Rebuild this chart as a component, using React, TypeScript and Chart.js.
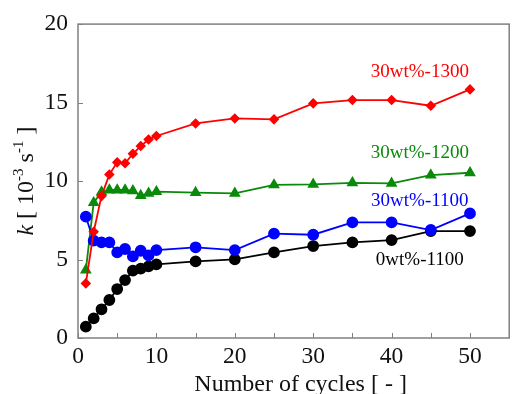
import { useEffect, useRef } from "react";
import { Chart, registerables } from "chart.js";

Chart.register(...registerables);

const cycles = [1, 2, 3, 4, 5, 6, 7, 8, 9, 10, 15, 20, 25, 30, 35, 40, 45, 50];
const k0wt1100 = [0.72, 1.25, 1.83, 2.42, 3.12, 3.69, 4.29, 4.42, 4.56, 4.69, 4.88, 5.01, 5.46, 5.86, 6.09, 6.24, 6.81, 6.81];
const k30wt1100 = [7.73, 6.2, 6.09, 6.09, 5.46, 5.67, 5.2, 5.56, 5.27, 5.6, 5.78, 5.6, 6.65, 6.58, 7.37, 7.37, 6.88, 7.94];
const k30wt1200 = [4.33, 8.62, 9.3, 9.43, 9.43, 9.43, 9.38, 9.07, 9.22, 9.32, 9.26, 9.22, 9.75, 9.79, 9.89, 9.85, 10.38, 10.53];
const k30wt1300 = [3.48, 6.77, 9.04, 10.42, 11.19, 11.13, 11.74, 12.23, 12.65, 12.87, 13.67, 13.99, 13.93, 14.95, 15.16, 15.16, 14.8, 15.84];

const xTicks = [0, 10, 20, 30, 40, 50];
const xMinorTicks = [5, 15, 25, 35, 45];
const yTicks = [0, 5, 10, 15, 20];

const seriesNames = ["30wt%-1300", "30wt%-1200", "30wt%-1100", "0wt%-1100"];
const seriesColors = ["#ff0000", "#0a8a0a", "#0000ff", "#000000"];
// label anchor positions in data units (x, y)
const labelX = [43.6, 43.6, 43.6, 43.6];
const labelY = [16.94, 11.78, 8.73, 4.97];

const xTitle = "Number of cycles [ - ]";

const FONT = '"Liberation Serif", "Times New Roman", serif';

const overlayPlugin = {
  id: "overlay",
  afterDraw(chart: any) {
    const { ctx, chartArea } = chart;
    const xs = chart.scales.x;
    const ys = chart.scales.y;
    ctx.save();
    // frame
    ctx.strokeStyle = "#808080";
    ctx.lineWidth = 1.5;
    ctx.strokeRect(chartArea.left, chartArea.top, chartArea.right - chartArea.left, chartArea.bottom - chartArea.top);
    // inward ticks
    ctx.lineWidth = 1;
    ctx.strokeStyle = "#808080";
    ctx.beginPath();
    [...xTicks, ...xMinorTicks].forEach((v) => {
      const px = Math.round(xs.getPixelForValue(v)) + 0.5;
      ctx.moveTo(px, chartArea.bottom);
      ctx.lineTo(px, chartArea.bottom - 5);
    });
    yTicks.forEach((v) => {
      const py = Math.round(ys.getPixelForValue(v)) + 0.5;
      ctx.moveTo(chartArea.left, py);
      ctx.lineTo(chartArea.left + 5, py);
    });
    ctx.stroke();

    // series labels
    ctx.font = `19px ${FONT}`;
    ctx.textAlign = "center";
    ctx.textBaseline = "middle";
    seriesNames.forEach((n, i) => {
      ctx.fillStyle = seriesColors[i];
      ctx.fillText(n, xs.getPixelForValue(labelX[i]), ys.getPixelForValue(labelY[i]));
    });

    // x title
    ctx.fillStyle = "#111";
    ctx.font = `24px ${FONT}`;
    ctx.textAlign = "center";
    ctx.textBaseline = "alphabetic";
    ctx.fillText(xTitle, (chartArea.left + chartArea.right) / 2 + 7, 391);

    // y title with superscripts
    const parts: [string, string, number][] = [
      ["k", `italic 24px ${FONT}`, 0],
      [" [ 10", `24px ${FONT}`, 0],
      ["-3", `15px ${FONT}`, 1],
      [" s", `24px ${FONT}`, 0],
      ["-1", `15px ${FONT}`, 1],
      [" ]", `24px ${FONT}`, 0],
    ];
    let total = 0;
    parts.forEach(([t, f]) => {
      ctx.font = f;
      total += ctx.measureText(t).width;
    });
    ctx.translate(33, (chartArea.top + chartArea.bottom) / 2);
    ctx.rotate(-Math.PI / 2);
    ctx.textAlign = "left";
    let x = -total / 2;
    parts.forEach(([t, f, sup]) => {
      ctx.font = f;
      ctx.fillText(t, x, sup ? -10 : 0);
      x += ctx.measureText(t).width;
    });
    ctx.restore();
  },
};

export default function App() {
  const ref = useRef<HTMLCanvasElement | null>(null);
  useEffect(() => {
    if (!ref.current) return;
    const mk = (i: number, data: number[], style: string, r: number) => ({
      label: seriesNames[i],
      data: cycles.map((c, j) => ({ x: c, y: data[j] })),
      borderColor: seriesColors[i],
      backgroundColor: seriesColors[i],
      pointBackgroundColor: seriesColors[i],
      pointBorderColor: seriesColors[i],
      pointStyle: style,
      pointRadius: r,
      borderWidth: 1.8,
      tension: 0,
    });
    const chart = new Chart(ref.current, {
      type: "line",
      data: {
        datasets: [
          mk(0, k30wt1300, "rectRot", 4),
          mk(2, k30wt1100, "circle", 5),
          mk(1, k30wt1200, "triangle", 5),
          mk(3, k0wt1100, "circle", 5),
        ],
      },
      options: {
        responsive: false,
        animation: false,
        layout: { padding: { top: 24, right: 1, left: 0, bottom: 0 } },
        plugins: { legend: { display: false }, tooltip: { enabled: false } },
        scales: {
          x: {
            type: "linear",
            min: 0,
            max: 55,
            grid: { display: false, drawTicks: false },
            border: { display: false },
            afterBuildTicks: (s: any) => {
              s.ticks = xTicks.map((v) => ({ value: v }));
            },
            afterFit: (s: any) => {
              s.height = 56;
            },
            ticks: {
              padding: 5,
              color: "#111",
              font: { family: FONT, size: 23.5 },
              maxRotation: 0,
            },
          },
          y: {
            type: "linear",
            min: 0,
            max: 20,
            grid: { display: false, drawTicks: false },
            border: { display: false },
            afterBuildTicks: (s: any) => {
              s.ticks = yTicks.map((v) => ({ value: v }));
            },
            afterFit: (s: any) => {
              s.width = 78;
            },
            ticks: {
              padding: 10,
              color: "#111",
              font: { family: FONT, size: 23.5 },
            },
          },
        },
      },
      plugins: [overlayPlugin],
    });
    return () => chart.destroy();
  }, []);
  return (
    <div style={{ position: "fixed", left: 0, top: 0, width: 516, height: 394, background: "#fff" }}>
      <canvas ref={ref} width={516} height={394} style={{ display: "block" }} />
    </div>
  );
}
